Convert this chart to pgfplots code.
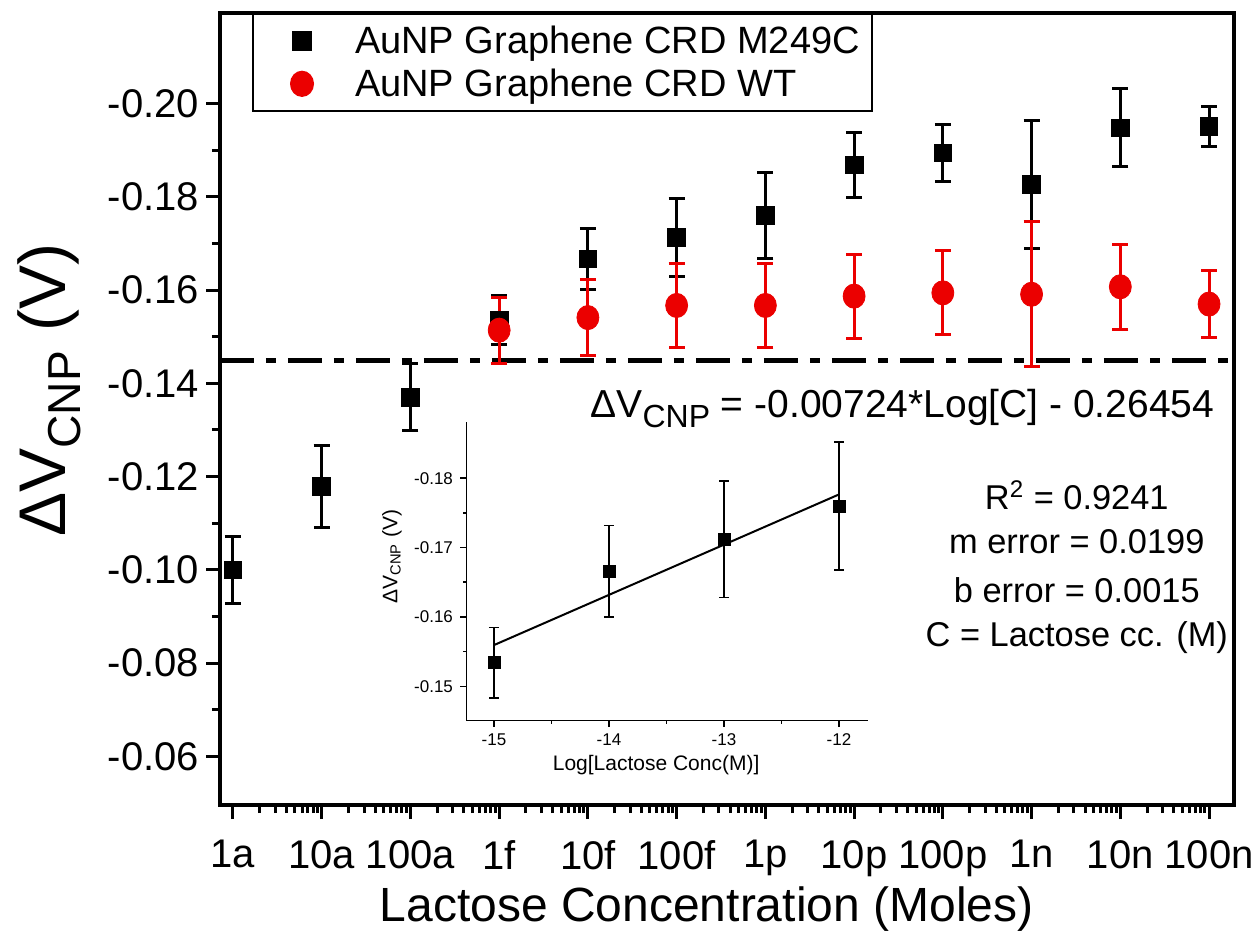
\documentclass[border=0pt]{standalone}
\usepackage{fontspec}
\setmainfont{Liberation Sans}
\usepackage{pgfplots}
\pgfplotsset{compat=1.18}
\definecolor{wtred}{RGB}{235,0,0}

\begin{document}
\begin{tikzpicture}
\path[use as bounding box] (-110pt,-71pt) rectangle (516.5pt,402.5pt);
% main panel
\begin{axis}[
    at={(0pt,0pt)}, anchor=south west,
    scale only axis, width=507pt, height=396pt,
    xmode=log,
    xmin=7.14e-19, xmax=1.91e-7,
    ymin=-0.2194, ymax=-0.0496, y dir=reverse,
    xtick={1e-18,1e-17,1e-16,1e-15,1e-14,1e-13,1e-12,1e-11,1e-10,1e-9,1e-8,1e-7},
    xticklabels={1a,10a,100a,1f,10f,100f,1p,10p,100p,1n,10n,100n},
    ytick={-0.20,-0.18,-0.16,-0.14,-0.12,-0.10,-0.08,-0.06},
    minor y tick num=1,
    yticklabel style={/pgf/number format/.cd, fixed, fixed zerofill, precision=2},
    xticklabel style={yshift=-7pt},
    /pgf/number format/assume math mode=true,
    tick align=outside, xtick pos=left, ytick pos=left,
    major tick length=7pt, minor tick length=4pt,
    every tick/.style={black, line width=1.5pt},
    axis line style={line width=1.8pt},
    tick label style={font=\fontsize{20}{24}\selectfont},
    xlabel={Lactose Concentration (Moles)},
    ylabel={ΔV\textsubscript{CNP} (V)},
    xlabel style={font=\fontsize{24}{28}\selectfont, at={(axis description cs:0.48,-0.132)}, anchor=center},
    ylabel style={font=\fontsize{33}{38}\selectfont, at={(axis description cs:-0.168,0.524)}, anchor=center},
    legend style={at={(axis description cs:0.0316,1)}, anchor=north west,
        draw=black, line width=1pt, font=\fontsize{19}{23}\selectfont,
        cells={anchor=west}, row sep=2pt, inner xsep=4pt, inner ysep=4pt},
    legend image code/.code={\path (-20pt,0pt) (24pt,0pt); \draw[#1] plot coordinates {(0pt,0pt)};},
]
\addplot[black, line width=2.5pt, dash pattern=on 17pt off 6pt on 5pt off 6pt, forget plot]
    coordinates {(7.14e-19,-0.145) (1.91e-7,-0.145)};
\addplot[black, only marks, mark=square*, mark size=4.4pt,
    error bars/.cd, y dir=both, y explicit,
    error bar style={line width=1.5pt, black},
    error mark options={rotate=90, black, line width=1.5pt, mark size=4pt}]
    coordinates {
    (1e-18,-0.1000) +- (0,0.0071)
    (1e-17,-0.1179) +- (0,0.0087)
    (1e-16,-0.1370) +- (0,0.0072)
    (1e-15,-0.1536) +- (0,0.0053)
    (1e-14,-0.1667) +- (0,0.0066)
    (1e-13,-0.1713) +- (0,0.0084)
    (1e-12,-0.1760) +- (0,0.0092)
    (1e-11,-0.1868) +- (0,0.0070)
    (1e-10,-0.1894) +- (0,0.0061)
    (1e-9,-0.1826) +- (0,0.0137)
    (1e-8,-0.1948) +- (0,0.0084)
    (1e-7,-0.1951) +- (0,0.0043)
    };
\addlegendentry{AuNP Graphene CRD M249C}
\addplot[wtred, only marks, mark=*, mark size=5.5pt, mark options={yscale=1.1},
    error bars/.cd, y dir=both, y explicit,
    error bar style={line width=1.5pt, wtred},
    error mark options={rotate=90, wtred, line width=1.5pt, mark size=4pt}]
    coordinates {
    (1e-15,-0.1514) +- (0,0.0071)
    (1e-14,-0.1541) +- (0,0.0082)
    (1e-13,-0.1567) +- (0,0.0091)
    (1e-12,-0.1567) +- (0,0.0091)
    (1e-11,-0.1587) +- (0,0.0090)
    (1e-10,-0.1594) +- (0,0.0090)
    (1e-9,-0.1591) +- (0,0.0155)
    (1e-8,-0.1607) +- (0,0.0091)
    (1e-7,-0.1570) +- (0,0.0071)
    };
\addlegendentry{AuNP Graphene CRD WT}
\node[font=\fontsize{19.5}{23}\selectfont] at (axis description cs:0.673,0.501)
    {ΔV{\fontsize{16}{18}\selectfont\raisebox{-5pt}{CNP}} = -0.00724*Log[C] - 0.26454};
\node[font=\fontsize{17.2}{21}\selectfont] at (axis description cs:0.845,0.391) {R\textsuperscript{2} = 0.9241};
\node[font=\fontsize{17.2}{21}\selectfont] at (axis description cs:0.845,0.333) {m error = 0.0199};
\node[font=\fontsize{17.2}{21}\selectfont] at (axis description cs:0.845,0.271) {b error = 0.0015};
\node[font=\fontsize{17.2}{21}\selectfont] at (axis description cs:0.845,0.212) {C = Lactose cc. (M)};
\end{axis}
% inset: linear fit over 1f..1p
\begin{axis}[
    at={(123pt,42pt)}, anchor=south west,
    scale only axis, width=201pt, height=149.5pt,
    xmin=-15.243, xmax=-11.748,
    ymin=-0.1881, ymax=-0.1450, y dir=reverse,
    xtick={-15,-14,-13,-12},
    ytick={-0.18,-0.17,-0.16,-0.15},
    minor x tick num=1, minor y tick num=1,
    yticklabel style={/pgf/number format/.cd, fixed, fixed zerofill, precision=2},
    /pgf/number format/assume math mode=true,
    tick align=outside, xtick pos=left, ytick pos=left,
    major tick length=3pt, minor tick length=1.5pt,
    every tick/.style={black, line width=0.8pt},
    axis line style={draw=none},
    tick label style={font=\fontsize{8.5}{10}\selectfont},
    xlabel={Log[Lactose Conc(M)]},
    ylabel={ΔV\textsubscript{CNP} (V)},
    xlabel style={font=\fontsize{10.5}{12}\selectfont, at={(axis description cs:0.473,-0.147)}, anchor=center},
    ylabel style={font=\fontsize{10.5}{12}\selectfont, at={(axis description cs:-0.184,0.55)}, anchor=center},
]
\draw[line width=1pt] (axis description cs:0,1) -- (axis description cs:0,0) -- (axis description cs:1,0);
\addplot[black, only marks, mark=square*, mark size=3pt,
    error bars/.cd, y dir=both, y explicit,
    error bar style={line width=0.8pt, black},
    error mark options={rotate=90, black, line width=0.8pt, mark size=2.5pt}]
    coordinates {
    (-15,-0.1534) +- (0,0.0051)
    (-14,-0.1666) +- (0,0.0066)
    (-13,-0.1712) +- (0,0.0084)
    (-12,-0.1760) +- (0,0.0092)
    };
\addplot[black, line width=1pt] coordinates {(-15,-0.15594) (-12,-0.17766)};
\end{axis}
\end{tikzpicture}
\end{document}
